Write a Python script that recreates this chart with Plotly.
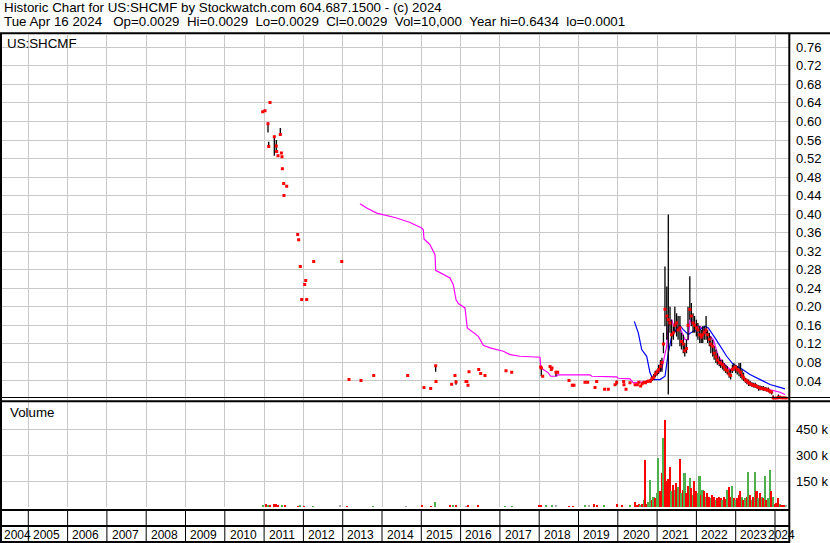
import plotly.graph_objects as go
import pandas as pd

W, H = 830, 543

# ---------------- data ----------------
# sparse trades (decimal year), close / high / low
sparse_t = [2010.964, 2011.023, 2011.099, 2011.117, 2011.150, 2011.260, 2011.310, 2011.320,
            2011.354, 2011.412, 2011.440, 2011.455, 2011.465, 2011.499, 2011.505, 2011.575,
            2011.855, 2011.880, 2011.921, 2011.957, 2012.033, 2012.059, 2012.084, 2012.262,
            2012.975, 2013.160, 2013.466, 2013.789, 2014.654, 2015.069, 2015.239, 2015.366,
            2015.374, 2015.773, 2015.857, 2015.883, 2016.137, 2016.160, 2016.188, 2016.214,
            2016.461, 2016.511, 2016.621, 2017.155, 2017.300, 2018.038, 2018.053, 2018.089,
            2018.275, 2018.308, 2018.326, 2018.427, 2018.470, 2018.758, 2018.842, 2018.885,
            2019.165, 2019.234, 2019.420, 2019.463, 2019.664, 2019.758, 2019.929, 2019.972,
            2020.150, 2020.158, 2020.209, 2020.310, 2020.440]
sparse_close = [0.621, 0.623, 0.595, 0.546, 0.641, 0.567, 0.547, 0.535,
                0.526, 0.572, 0.532, 0.524, 0.498, 0.466, 0.440, 0.460,
                0.356, 0.345, 0.287, 0.216, 0.248, 0.257, 0.216, 0.298,
                0.298, 0.043, 0.041, 0.052, 0.052, 0.026, 0.024, 0.073,
                0.039, 0.033, 0.052, 0.038, 0.039, 0.039, 0.031, 0.060,
                0.065, 0.056, 0.052, 0.062, 0.059, 0.070, 0.068, 0.050,
                0.071, 0.065, 0.068, 0.059, 0.059, 0.041, 0.031, 0.031,
                0.037, 0.037, 0.026, 0.039, 0.022, 0.022, 0.032, 0.037,
                0.039, 0.032, 0.022, 0.036, 0.032]
sparse_high = [0.621, 0.623, 0.598, 0.556, 0.641, 0.569, 0.560, 0.535,
               0.526, 0.586, 0.534, 0.524, 0.498, 0.466, 0.440, 0.460,
               0.356, 0.345, 0.287, 0.216, 0.248, 0.257, 0.216, 0.298,
               0.298, 0.043, 0.041, 0.052, 0.052, 0.026, 0.024, 0.074,
               0.039, 0.033, 0.052, 0.041, 0.039, 0.039, 0.031, 0.060,
               0.065, 0.056, 0.052, 0.062, 0.059, 0.070, 0.069, 0.050,
               0.071, 0.065, 0.068, 0.059, 0.059, 0.041, 0.031, 0.031,
               0.037, 0.037, 0.026, 0.039, 0.022, 0.022, 0.032, 0.041,
               0.039, 0.032, 0.022, 0.036, 0.032]
sparse_low = [0.621, 0.623, 0.576, 0.545, 0.641, 0.526, 0.532, 0.535,
              0.526, 0.571, 0.531, 0.524, 0.498, 0.466, 0.440, 0.460,
              0.356, 0.345, 0.287, 0.216, 0.248, 0.257, 0.216, 0.298,
              0.298, 0.043, 0.041, 0.052, 0.052, 0.026, 0.024, 0.060,
              0.039, 0.033, 0.052, 0.032, 0.039, 0.039, 0.031, 0.060,
              0.065, 0.056, 0.052, 0.062, 0.059, 0.070, 0.050, 0.050,
              0.071, 0.065, 0.068, 0.050, 0.059, 0.041, 0.031, 0.031,
              0.037, 0.037, 0.026, 0.039, 0.022, 0.022, 0.032, 0.032,
              0.039, 0.032, 0.022, 0.036, 0.032]

# regular trading from mid 2020 (semi-monthly readings)
dense_dates = [
    "2020-07-01", "2020-07-15", "2020-08-01", "2020-08-15", "2020-09-01", "2020-09-15",
    "2020-10-01", "2020-10-15", "2020-11-01", "2020-11-15", "2020-12-01", "2020-12-15",
    "2021-01-01", "2021-01-15", "2021-02-01", "2021-02-15", "2021-03-01", "2021-03-15",
    "2021-04-01", "2021-04-15", "2021-05-01", "2021-05-15", "2021-06-01", "2021-06-15",
    "2021-07-01", "2021-07-15", "2021-08-01", "2021-08-15", "2021-09-01", "2021-09-15",
    "2021-10-01", "2021-10-15", "2021-11-01", "2021-11-15", "2021-12-01", "2021-12-15",
    "2022-01-01", "2022-01-15", "2022-02-01", "2022-02-15", "2022-03-01", "2022-03-15",
    "2022-04-01", "2022-04-15", "2022-05-01", "2022-05-15", "2022-06-01", "2022-06-15",
    "2022-07-01", "2022-07-15", "2022-08-01", "2022-08-15", "2022-09-01", "2022-09-15",
    "2022-10-01", "2022-10-15", "2022-11-01", "2022-11-15", "2022-12-01", "2022-12-15",
    "2023-01-01", "2023-01-15", "2023-02-01", "2023-02-15", "2023-03-01", "2023-03-15",
    "2023-04-01", "2023-04-15", "2023-05-01", "2023-05-15", "2023-06-01", "2023-06-15",
    "2023-07-01", "2023-07-15", "2023-08-01", "2023-08-15", "2023-09-01", "2023-09-15",
    "2023-10-01", "2023-10-15", "2023-11-01", "2023-11-15", "2023-12-01", "2023-12-15",
    "2024-01-01", "2024-01-15", "2024-02-01", "2024-02-15", "2024-03-01", "2024-03-15",
    "2024-04-01", "2024-04-15"]
dense_close = [0.032, 0.037, 0.029, 0.034, 0.037, 0.036, 0.039, 0.040,
               0.040, 0.045, 0.048, 0.055, 0.060, 0.065, 0.072, 0.080,
               0.120, 0.195, 0.180, 0.172, 0.165, 0.140, 0.144, 0.160,
               0.165, 0.150, 0.155, 0.125, 0.120, 0.105, 0.110, 0.160,
               0.194, 0.180, 0.165, 0.160, 0.155, 0.150, 0.140, 0.135,
               0.140, 0.145, 0.150, 0.140, 0.130, 0.120, 0.115, 0.100,
               0.092, 0.085, 0.080, 0.078, 0.075, 0.070, 0.065, 0.062,
               0.055, 0.052, 0.065, 0.068, 0.070, 0.065, 0.062, 0.058,
               0.052, 0.047, 0.042, 0.040, 0.036, 0.034, 0.032, 0.031,
               0.030, 0.028, 0.026, 0.025, 0.024, 0.023, 0.022, 0.021,
               0.020, 0.017, 0.016, 0.003, 0.002, 0.003, 0.004, 0.005,
               0.003, 0.003, 0.003, 0.0029]
dense_high = [0.032, 0.037, 0.029, 0.034, 0.037, 0.036, 0.039, 0.040,
              0.045, 0.050, 0.055, 0.062, 0.065, 0.075, 0.085, 0.090,
              0.144, 0.287, 0.244, 0.399, 0.200, 0.172, 0.158, 0.200,
              0.186, 0.180, 0.180, 0.144, 0.140, 0.122, 0.129, 0.200,
              0.266, 0.208, 0.186, 0.180, 0.172, 0.165, 0.158, 0.150,
              0.158, 0.158, 0.180, 0.150, 0.144, 0.136, 0.129, 0.115,
              0.108, 0.100, 0.093, 0.086, 0.086, 0.079, 0.075, 0.072,
              0.065, 0.065, 0.075, 0.079, 0.075, 0.072, 0.079, 0.079,
              0.065, 0.058, 0.047, 0.045, 0.043, 0.040, 0.037, 0.036,
              0.036, 0.033, 0.031, 0.030, 0.029, 0.029, 0.027, 0.026,
              0.026, 0.020, 0.019, 0.009, 0.004, 0.005, 0.011, 0.008,
              0.005, 0.004, 0.004, 0.0029]
dense_low = [0.032, 0.037, 0.029, 0.034, 0.037, 0.036, 0.039, 0.040,
             0.036, 0.040, 0.042, 0.048, 0.052, 0.055, 0.060, 0.060,
             0.100, 0.158, 0.129, 0.011, 0.144, 0.115, 0.129, 0.144,
             0.136, 0.129, 0.115, 0.108, 0.100, 0.093, 0.100, 0.129,
             0.172, 0.158, 0.144, 0.144, 0.136, 0.129, 0.122, 0.122,
             0.122, 0.129, 0.129, 0.122, 0.115, 0.100, 0.093, 0.086,
             0.079, 0.075, 0.072, 0.068, 0.065, 0.061, 0.057, 0.054,
             0.047, 0.043, 0.057, 0.061, 0.057, 0.054, 0.050, 0.047,
             0.043, 0.040, 0.036, 0.033, 0.029, 0.029, 0.027, 0.026,
             0.025, 0.024, 0.019, 0.020, 0.020, 0.019, 0.019, 0.017,
             0.016, 0.013, 0.011, 0.000, 0.001, 0.001, 0.000, 0.003,
             0.002, 0.002, 0.002, 0.0029]

# moving averages
ma_pink_t = [2013.440, 2013.611, 2013.865, 2014.033, 2014.374, 2014.712, 2015.010, 2015.051,
             2015.069, 2015.221, 2015.349, 2015.366, 2015.560, 2015.730, 2015.814, 2015.883,
             2015.941, 2016.112, 2016.170, 2016.323, 2016.450, 2016.578, 2016.748, 2017.087,
             2017.257, 2017.511, 2018.020, 2018.038, 2018.104, 2018.232, 2018.293, 2018.445,
             2018.461, 2019.293, 2019.336, 2019.972, 2020.013, 2020.310, 2020.394, 2020.819,
             2020.946, 2021.117, 2021.244, 2021.285, 2021.372, 2021.455, 2021.583, 2021.710,
             2021.794, 2021.837, 2021.964, 2022.092, 2022.262, 2022.430, 2022.557, 2022.684,
             2022.855, 2022.982, 2023.109, 2023.280, 2023.534, 2023.873, 2024.127, 2024.255]
ma_pink_v = [0.4224, 0.4131, 0.4023, 0.3993, 0.3916, 0.3821, 0.3700, 0.3664,
             0.3463, 0.3340, 0.3125, 0.2786, 0.2694, 0.2623, 0.2478, 0.2155,
             0.2069, 0.1976, 0.1545, 0.1437, 0.1364, 0.1170, 0.1114, 0.1041,
             0.0970, 0.0933, 0.0912, 0.0718, 0.0647, 0.0575, 0.0502, 0.0502,
             0.0532, 0.0532, 0.0502, 0.0489, 0.0459, 0.0446, 0.0360, 0.0394,
             0.0502, 0.0647, 0.1149, 0.1580, 0.1724, 0.1472, 0.1545, 0.1293,
             0.1293, 0.1724, 0.1580, 0.1580, 0.1437, 0.1293, 0.0933, 0.0791,
             0.0647, 0.0683, 0.0610, 0.0394, 0.0287, 0.0216, 0.0157, 0.0108]
ma_blue_t = [2020.420, 2020.522, 2020.608, 2020.735, 2020.819, 2020.903, 2021.074, 2021.201,
             2021.285, 2021.372, 2021.455, 2021.583, 2021.667, 2021.794, 2021.921, 2022.092,
             2022.219, 2022.303, 2022.473, 2022.600, 2022.771, 2022.939, 2023.109, 2023.364,
             2023.618, 2023.873, 2024.170, 2024.255]
ma_blue_v = [0.1687, 0.1437, 0.1078, 0.0933, 0.0575, 0.0431, 0.0431, 0.0502,
             0.1006, 0.1364, 0.1472, 0.1595, 0.1509, 0.1401, 0.1472, 0.1509,
             0.1580, 0.1545, 0.1330, 0.1149, 0.0933, 0.0754, 0.0683, 0.0539,
             0.0431, 0.0323, 0.0252, 0.0231]

# volume (thousands of shares); colour code r=down g=up n=unchanged
vol_sparse_t = [2010.97, 2011.05, 2011.10, 2011.15, 2011.25, 2011.30, 2011.35, 2011.46,
                2011.53, 2011.86, 2011.91, 2012.02, 2012.24, 2012.93, 2013.11, 2013.77,
                2014.61, 2015.02, 2015.25, 2015.35, 2015.73, 2015.82, 2015.88, 2016.14,
                2016.19, 2016.46, 2017.13, 2017.31, 2017.99, 2018.04, 2018.19, 2018.33,
                2018.43, 2018.76, 2018.86, 2019.17, 2019.27, 2019.40, 2019.48, 2019.66,
                2019.99, 2020.11, 2020.31, 2020.44]
vol_sparse_k = [10, 18, 14, 10, 20, 16, 12, 8,
                6, 5, 6, 4, 5, 10, 5, 4,
                4, 8, 5, 28, 12, 12, 6, 5,
                8, 10, 4, 4, 6, 8, 10, 12,
                6, 5, 5, 8, 12, 18, 14, 8,
                20, 10, 12, 28]
vol_sparse_c = ["g", "r", "g", "r", "r", "r", "r", "g",
                "r", "r", "g", "r", "g", "n", "r", "g",
                "n", "r", "r", "g", "r", "g", "r", "n",
                "r", "r", "g", "g", "r", "r", "g", "g",
                "n", "r", "r", "g", "n", "r", "r", "g",
                "r", "r", "g", "r"]
vol_dense_k = [12, 15, 10, 18, 40, 271, 20, 30,
               156, 40, 60, 50, 80, 283, 90, 196,
               400, 502, 150, 160, 233, 90, 130, 100,
               140, 115, 277, 80, 100, 196, 80, 120,
               169, 110, 70, 150, 90, 80, 181, 70,
               100, 90, 60, 80, 60, 50, 70, 60,
               40, 50, 60, 55, 40, 60, 45, 100,
               115, 60, 120, 50, 40, 50, 70, 90,
               60, 40, 50, 60, 204, 70, 40, 60,
               204, 90, 50, 80, 60, 50, 181, 40,
               50, 213, 90, 60, 20, 25, 54, 15,
               10, 8, 12, 10]
vol_dense_c = ["r", "r", "g", "r", "g", "r", "r", "g",
               "g", "r", "g", "r", "g", "g", "r", "r",
               "g", "r", "r", "r", "r", "g", "r", "g",
               "r", "g", "r", "g", "r", "g", "r", "r",
               "g", "r", "g", "r", "r", "g", "g", "r",
               "g", "r", "g", "r", "r", "g", "r", "r",
               "g", "r", "r", "r", "g", "r", "r", "g",
               "r", "r", "g", "r", "g", "r", "r", "r",
               "g", "r", "g", "r", "g", "r", "g", "r",
               "g", "r", "g", "r", "g", "r", "g", "r",
               "g", "g", "r", "g", "r", "r", "r", "g",
               "r", "r", "r", "n"]

price_ticks = [0.04, 0.08, 0.12, 0.16, 0.20, 0.24, 0.28, 0.32, 0.36, 0.40,
               0.44, 0.48, 0.52, 0.56, 0.60, 0.64, 0.68, 0.72, 0.76]
vol_ticks = [150000, 300000, 450000]
vol_tick_text = ["150 k", "300 k", "450 k"]
year_labels = list(range(2004, 2025))

header1 = "Historic Chart for US:SHCMF by Stockwatch.com 604.687.1500 - (c) 2024"
header2_date = "Tue Apr 16 2024"
header2_fields = ["Op=0.0029", "Hi=0.0029", "Lo=0.0029", "Cl=0.0029",
                  "Vol=10,000", "Year hi=0.6434", "lo=0.0001"]


# ---------------- helpers ----------------
def to_year(s):
    d = pd.Timestamp(s)
    a = pd.Timestamp(year=d.year, month=1, day=1)
    b = pd.Timestamp(year=d.year + 1, month=1, day=1)
    return d.year + (d - a) / (b - a)


def pxx(p):
    return p / W


def pxy(p):
    return 1 - p / H


dense_t = [to_year(s) for s in dense_dates]
all_t = sparse_t + dense_t
all_c = sparse_close + dense_close
all_h = sparse_high + dense_high
all_l = sparse_low + dense_low

hl_x, hl_y = [], []
for t, hi, lo in zip(all_t, all_h, all_l):
    if hi > lo:
        hl_x += [t, t, None]
        hl_y += [lo, hi, None]

cmap = {"r": "#ff0000", "g": "#4db04d", "n": "#a8a8a8"}
vol_t = vol_sparse_t + dense_t
vol_v = [v * 1000 for v in vol_sparse_k + vol_dense_k]
vol_col = [cmap[c] for c in vol_sparse_c + vol_dense_c]
vol_w = [0.035] * len(vol_sparse_t) + [1 / 24] * len(dense_t)

FONT = "Arial, 'Liberation Sans', sans-serif"
GRID = "#c8c8c8"
X0, X1 = 2004.3053, 2024.369

fig = go.Figure()
fig.add_trace(go.Bar(x=vol_t, y=vol_v, width=vol_w, marker=dict(color=vol_col, line=dict(width=0)),
                     xaxis="x2", yaxis="y2", hoverinfo="skip"))
fig.add_trace(go.Scatter(x=ma_pink_t, y=ma_pink_v, mode="lines", line=dict(color="#ff00ff", width=1.2),
                         xaxis="x", yaxis="y"))
fig.add_trace(go.Scatter(x=ma_blue_t, y=ma_blue_v, mode="lines", line=dict(color="#0000ff", width=1.2),
                         xaxis="x", yaxis="y"))
fig.add_trace(go.Scatter(x=hl_x, y=hl_y, mode="lines", line=dict(color="#000000", width=1.3),
                         connectgaps=False, xaxis="x", yaxis="y"))
fig.add_trace(go.Scatter(x=all_t, y=all_c, mode="markers",
                         marker=dict(symbol="square", size=3, color="#ff0000", line=dict(width=0)),
                         xaxis="x", yaxis="y"))

xcommon = dict(range=[X0, X1], tick0=2005, dtick=1, showgrid=True, gridcolor=GRID, gridwidth=1,
               showticklabels=False, ticks="", zeroline=False, showline=False, domain=[pxx(1), pxx(789.5)])
fig.update_layout(
    width=W, height=H, margin=dict(l=0, r=0, t=0, b=0), autosize=False,
    paper_bgcolor="white", plot_bgcolor="white", showlegend=False, bargap=0,
    font=dict(family=FONT, size=13, color="#000000"),
    xaxis=dict(anchor="y", **xcommon),
    xaxis2=dict(anchor="y2", matches="x", **xcommon),
    yaxis=dict(anchor="x", domain=[pxy(399.5), pxy(35)], range=[0, 0.7866], side="right",
               tickvals=price_ticks, ticktext=[f"{v:.2f}" for v in price_ticks],
               showgrid=True, gridcolor=GRID, zeroline=False, showline=False,
               ticks="outside", ticklen=3, tickcolor="rgba(0,0,0,0)"),
    yaxis2=dict(anchor="x2", domain=[pxy(507), pxy(402)], range=[0, 609300], side="right",
                tickvals=vol_ticks, ticktext=vol_tick_text,
                showgrid=True, gridcolor=GRID, zeroline=False, showline=False,
                ticks="outside", ticklen=3, tickcolor="rgba(0,0,0,0)"),
)

shapes = []


def hline(y, x0, x1, w):
    shapes.append(dict(type="line", xref="paper", yref="paper", x0=pxx(x0), x1=pxx(x1),
                       y0=pxy(y), y1=pxy(y), line=dict(color="black", width=w), layer="above"))


def vline(x, y0, y1, w):
    shapes.append(dict(type="line", xref="paper", yref="paper", x0=pxx(x), x1=pxx(x),
                       y0=pxy(y0), y1=pxy(y1), line=dict(color="black", width=w), layer="above"))


hline(33.3, 0, 830, 2)
hline(397.5, 0, 830, 1)
hline(401.3, 0, 830, 2)
hline(510, 0, 789.5, 2)
hline(526, 0, 789.5, 2)
hline(542, 0, 789.5, 2)
vline(1, 33, 543, 2)
vline(789.3, 33, 543, 2)
for yr in year_labels[1:]:
    shapes.append(dict(type="line", xref="x", yref="paper", x0=yr, x1=yr, y0=pxy(543), y1=pxy(510),
                       line=dict(color="black", width=1), layer="above"))

NB2 = "\u00a0\u00a0"
header2 = header2_date + "\u00a0" + NB2 + NB2.join(header2_fields)

ann = []
ann.append(dict(text=header1, x=pxx(2), y=pxy(8), xref="paper", yref="paper", xanchor="left",
                yanchor="middle", showarrow=False, font=dict(size=13.33, family=FONT)))
ann.append(dict(text=header2, x=pxx(2), y=pxy(21.5), xref="paper",
                yref="paper", xanchor="left", yanchor="middle", showarrow=False,
                font=dict(size=13.33, family=FONT)))
ann.append(dict(text="US:SHCMF", x=pxx(5), y=pxy(43), xref="paper", yref="paper", xanchor="left",
                yanchor="middle", showarrow=False, font=dict(size=13.33, family=FONT)))
ann.append(dict(text="Volume", x=pxx(7.5), y=pxy(413), xref="paper", yref="paper", xanchor="left",
                yanchor="middle", showarrow=False, font=dict(size=13.33, family=FONT)))
for yr in year_labels:
    if yr == year_labels[0]:
        xpos = X0 + 0.02
    elif yr == year_labels[-1]:
        xpos = yr - 0.24
    else:
        xpos = yr + 0.07
    ann.append(dict(text=str(yr), x=xpos, y=pxy(534.5), xref="x", yref="paper", xanchor="left",
                    yanchor="middle", showarrow=False, font=dict(size=12, family=FONT)))

fig.update_layout(shapes=shapes, annotations=ann)
fig.write_html("out.html", config={"displayModeBar": False},
               post_script="document.body.style.margin='0';document.body.style.overflow='hidden';")
